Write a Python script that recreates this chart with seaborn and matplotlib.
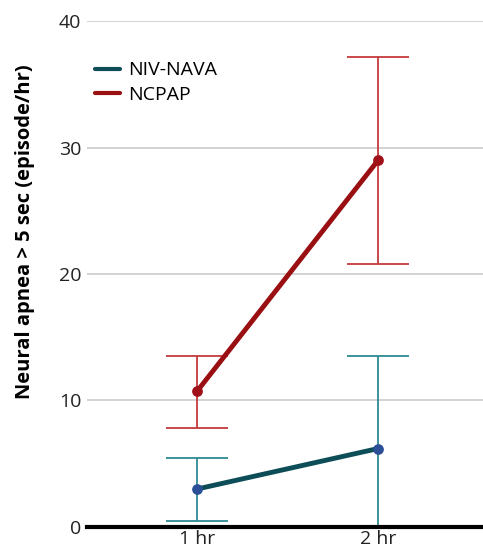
import matplotlib
matplotlib.use("Agg")
import matplotlib.pyplot as plt
import pandas as pd
import seaborn as sns

# data
times = ["1 hr", "2 hr"]
nava_mean = [3.0, 6.2]
nava_low = [0.45, -1.2]
nava_high = [5.45, 13.5]
ncpap_mean = [10.75, 29.0]
ncpap_low = [7.85, 20.8]
ncpap_high = [13.55, 37.2]

sns.set_theme(style="white")
plt.rcParams["font.family"] = ["Open Sans", "DejaVu Sans"]

df = pd.DataFrame({
    "pos": [0, 1, 0, 1],
    "value": nava_mean + ncpap_mean,
    "group": ["NIV-NAVA"] * 2 + ["NCPAP"] * 2,
})

fig = plt.figure(figsize=(4.83, 5.57), dpi=100)
ax = fig.add_axes([0.18, 0.054, 0.82, 0.908])

line_colors = {"NIV-NAVA": "#0d4d57", "NCPAP": "#990f12"}
err_colors = {"NIV-NAVA": "#2f8a93", "NCPAP": "#c43a3c"}
marker_colors = {"NIV-NAVA": "#2b4f96", "NCPAP": "#a01018"}

# error bars first so lines sit on top
for name, mean, low, high in [("NIV-NAVA", nava_mean, nava_low, nava_high),
                               ("NCPAP", ncpap_mean, ncpap_low, ncpap_high)]:
    yerr = [[m - l for m, l in zip(mean, low)], [h - m for m, h in zip(mean, high)]]
    ax.errorbar([0, 1], mean, yerr=yerr, fmt="none", ecolor=err_colors[name],
                elinewidth=1.3, capsize=22, capthick=1.3, zorder=2)

sns.lineplot(data=df, x="pos", y="value", hue="group", palette=line_colors,
             linewidth=3.5, ax=ax, zorder=3)
for name, mean in [("NIV-NAVA", nava_mean), ("NCPAP", ncpap_mean)]:
    ax.scatter([0, 1], mean, s=45, color=marker_colors[name], zorder=4)

ax.set_xlim(-0.61, 1.58)
ax.set_ylim(0, 40)
ax.set_xticks([0, 1])
ax.set_xticklabels(times)
ax.set_yticks([0, 10, 20, 30, 40])
ax.tick_params(axis="both", labelsize=14, length=0, pad=4, labelcolor="#222222")
ax.tick_params(axis="x", pad=2)
ax.yaxis.grid(True, color="#cccccc", linewidth=1.2)
ax.set_axisbelow(True)
for s in ["left", "right", "top"]:
    ax.spines[s].set_visible(False)
ax.spines["bottom"].set_color("black")
ax.spines["bottom"].set_linewidth(3)
ax.spines["bottom"].set_zorder(5)

ax.set_xlabel("")
ax.set_ylabel("Neural apnea > 5 sec (episode/hr)", fontsize=14.5, fontweight="bold",
              color="black", family=["Open Sans", "DejaVu Sans"])
ax.yaxis.set_label_coords(-0.13, 0.583)

leg = ax.legend(loc="upper left", bbox_to_anchor=(-0.025, 0.955), frameon=False,
                fontsize=14, handlelength=1.3, handletextpad=0.45, labelspacing=0.35)
for h in leg.get_lines():
    h.set_linewidth(3)
for t in leg.get_texts():
    t.set_color("black")

fig.savefig("out.png", dpi=100)
